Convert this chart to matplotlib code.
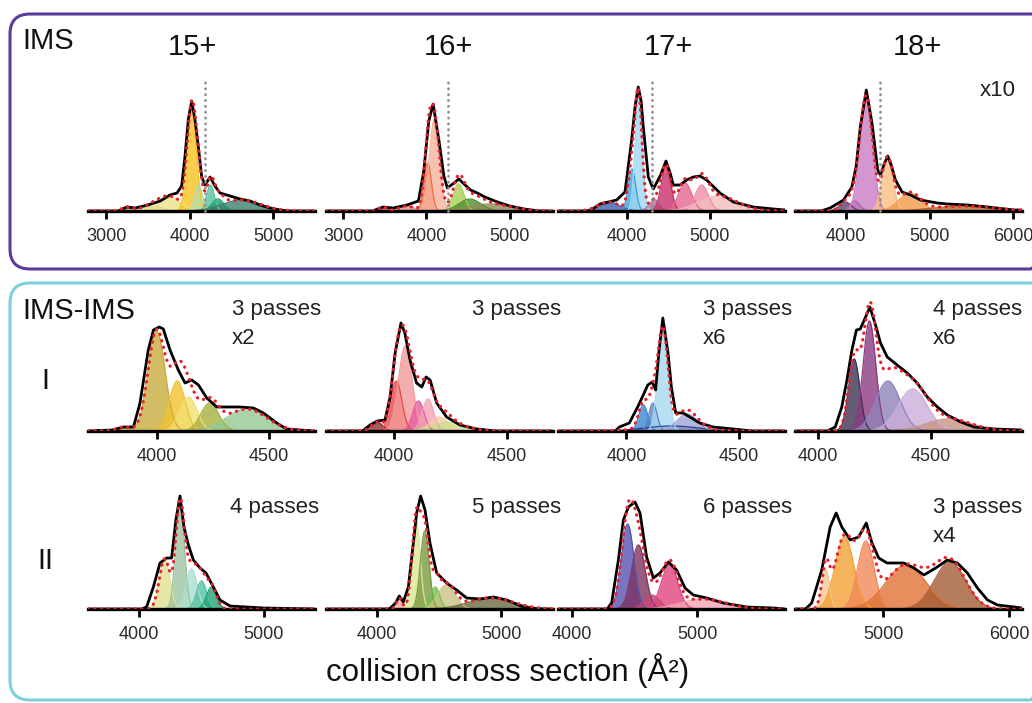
import numpy as np
import matplotlib
matplotlib.use("Agg")
from matplotlib import pyplot as plt
from matplotlib.patches import FancyBboxPatch

plt.rcParams['font.family'] = ['Liberation Sans', 'DejaVu Sans']

# Fitted components per panel: (centre CCS, height, sigma) + colours
# Measured trace per panel: CCS samples and heights (arbitrary units)
#--------------------------------------------------------------------------
# IMS row
ims15_peaks = [(3250, 4, 60), (3550, 5, 120), (3760, 14, 130), (4026, 104, 55),
               (4110, 26, 45), (4250, 26, 45), (4340, 12, 70), (4620, 11, 230)]
ims15_cols = ['#c8b050', '#e0d890', '#efe08a', '#f6c420',
              '#b8dca8', '#58c4a0', '#1f9b70', '#3f7f70']
ims15_x = [2784, 3150, 3250, 3350, 3500, 3650, 3766, 3850, 3906, 3946, 3986, 4026,
           4066, 4106, 4146, 4186, 4246, 4305, 4365, 4485, 4605, 4725, 4844,
           4964, 5084, 5200, 5503]
ims15_y = [0, 0, 4, 3, 6, 10, 16, 18, 25, 55, 92, 110, 91, 64, 34, 26, 34, 25,
           18, 15, 12, 10, 6, 3, 1, 0, 0]

ims16_peaks = [(3480, 4, 50), (3760, 5, 90), (4015, 48, 45), (4095, 92, 60),
               (4385, 27, 65), (4520, 12, 130), (4760, 7, 250)]
ims16_cols = ['#c86a5a', '#d89080', '#f26b45', '#f7b29c',
              '#a8cf55', '#4f8f2f', '#8f8a55']
ims16_x = [2795, 3350, 3480, 3600, 3767, 3904, 3968, 4028, 4080, 4149, 4209, 4250,
           4330, 4389, 4450, 4530, 4610, 4700, 4851, 5000, 5172, 5350, 5518]
ims16_y = [0, 0, 4, 3, 6, 10, 40, 90, 107, 71, 35, 23, 28, 32, 27, 21, 18, 14,
           9, 5, 2, 0, 0]

ims17_peaks = [(3780, 9, 130), (4060, 42, 45), (4140, 113, 42), (4340, 11, 70),
               (4470, 44, 58), (4700, 28, 80), (4900, 26, 80), (5100, 15, 230)]
ims17_cols = ['#3d5fb0', '#3f9fdc', '#9ed8f2', '#b27098',
              '#c8306c', '#e4688f', '#ef8ca6', '#f4bcbc']
ims17_x = [3169, 3550, 3675, 3876, 3976, 4056, 4100, 4136, 4170, 4197, 4257, 4317,
           4400, 4470, 4520, 4558, 4638, 4719, 4800, 4880, 4960, 5121, 5282,
           5522, 5763, 5904]
ims17_y = [0, 0, 7, 11, 19, 71, 106, 124, 110, 84, 34, 22, 35, 50, 38, 26, 26,
           31, 34, 35, 31, 18, 9, 4, 2, 1]

ims18_peaks = [(3990, 9, 70), (4100, 10, 60), (4240, 115, 75), (4495, 52, 65),
               (4760, 18, 130), (5400, 5, 350)]
ims18_cols = ['#5b3d6e', '#a46aa6', '#c97cc2', '#fbbf84', '#f29a4a', '#b8642a']
ims18_x = [3386, 3700, 3807, 3968, 4068, 4120, 4169, 4241, 4309, 4378, 4410, 4460,
           4498, 4540, 4590, 4670, 4771, 4892, 5092, 5212, 5454, 5695, 6016, 6108]
ims18_y = [0, 0, 3, 11, 24, 45, 84, 121, 88, 41, 36, 48, 55, 46, 31, 19, 16, 11,
           8, 7, 6, 4, 1, 1]

ims_marker = [4186, 4261, 4297, 4402]  # dotted reference lines

# IMS-IMS row I
i1_peaks = [(3850, 4, 30), (3998, 100, 38), (4090, 50, 35), (4140, 34, 38),
            (4235, 28, 40), (4400, 22, 90)]
i1_cols = ['#c8a83a', '#c7ad3f', '#f2c230', '#f2e070', '#a9b040', '#94c894']
i1_x = [3692, 3800, 3850, 3895, 3924, 3961, 3984, 4010, 4028, 4058, 4095, 4125,
        4155, 4185, 4222, 4267, 4326, 4370, 4430, 4475, 4534, 4579, 4638, 4705]
i1_y = [0, 1, 4, 4, 28, 81, 101, 104, 102, 81, 61, 48, 51, 46, 33, 24, 24, 24,
        23, 18, 8, 2, 1, 0]

i2_peaks = [(3925, 9, 25), (4010, 50, 25), (4050, 85, 30), (4108, 30, 25),
            (4150, 32, 25), (4200, 14, 40), (4240, 9, 70)]
i2_cols = ['#8c3434', '#e84a4a', '#f39a9a', '#e65aa0', '#f5a3b5', '#f8caa8', '#c8e08a']
i2_x = [3699, 3860, 3894, 3926, 3960, 3983, 4005, 4031, 4048, 4071, 4100, 4123,
        4142, 4160, 4189, 4233, 4292, 4366, 4450, 4704]
i2_y = [0, 0, 6, 10, 11, 34, 78, 108, 98, 71, 48, 44, 54, 51, 28, 14, 6, 2, 0, 0]

i3_peaks = [(4200, 5, 120), (4075, 26, 20), (4118, 28, 18), (4162, 98, 22),
            (4270, 17, 45)]
i3_cols = ['#2b3c8c', '#3a8ad2', '#5a84c4', '#a8d8f0', '#9ba6d6']
i3_x = [3696, 3950, 3969, 4013, 4050, 4073, 4095, 4115, 4130, 4144, 4162, 4185,
        4200, 4219, 4252, 4282, 4326, 4385, 4475, 4560, 4705]
i3_y = [0, 0, 4, 8, 24, 35, 46, 49, 41, 78, 113, 78, 44, 18, 18, 14, 8, 4, 2, 0, 0]

i4_peaks = [(4160, 72, 25), (4228, 110, 28), (4310, 50, 55), (4420, 42, 65),
            (4580, 12, 100)]
i4_cols = ['#3d3252', '#8b3b82', '#8e84ba', '#cbaedb', '#c99484']
i4_x = [3897, 4040, 4076, 4105, 4128, 4150, 4170, 4187, 4205, 4230, 4255, 4277,
        4307, 4351, 4396, 4440, 4485, 4530, 4574, 4634, 4693, 4783, 4906]
i4_y = [0, 0, 4, 24, 51, 81, 101, 102, 111, 124, 106, 88, 74, 66, 58, 48, 34,
        24, 16, 9, 4, 2, 1]

# IMS-IMS row II
ii1_peaks = [(4205, 50, 42), (4328, 105, 35), (4420, 40, 45), (4500, 28, 40),
             (4580, 22, 40)]
ii1_cols = ['#e2e094', '#9cc4a2', '#acdfd0', '#52c1a2', '#1fa172']
ii1_x = [3592, 4020, 4061, 4115, 4168, 4221, 4261, 4295, 4328, 4360, 4395, 4435,
         4488, 4536, 4595, 4648, 4728, 4861, 5000, 5408]
ii1_y = [0, 0, 2, 22, 46, 51, 51, 89, 113, 82, 64, 49, 41, 36, 22, 9, 3, 2, 1, 0]

ii2_peaks = [(4180, 11, 22), (4315, 88, 33), (4385, 78, 35), (4470, 22, 35),
             (4560, 24, 70), (4920, 11, 180)]
ii2_cols = ['#f2a4a4', '#d9e893', '#7b9b42', '#72c152', '#c9c283', '#6b6b43']
ii2_x = [3589, 4100, 4150, 4180, 4212, 4253, 4293, 4320, 4352, 4387, 4427, 4481,
         4562, 4642, 4723, 4831, 4938, 5046, 5180, 5300, 5419]
ii2_y = [0, 0, 6, 13, 7, 22, 66, 96, 113, 99, 66, 36, 26, 19, 11, 10, 12, 9, 2, 0, 0]

ii3_peaks = [(4445, 85, 50), (4531, 64, 55), (4640, 14, 60), (4780, 45, 65),
             (5050, 10, 180)]
ii3_cols = ['#5553b3', '#7f3361', '#c14a73', '#e0447e', '#f2a4b4']
ii3_x = [3888, 4280, 4317, 4371, 4411, 4451, 4504, 4544, 4597, 4651, 4704, 4771,
         4837, 4904, 4971, 5077, 5211, 5397, 5611, 5704]
ii3_y = [0, 0, 6, 49, 89, 102, 107, 96, 52, 31, 36, 47, 39, 21, 14, 11, 6, 2, 1, 0]

ii4_peaks = [(4540, 40, 30), (4690, 72, 75), (4860, 68, 65), (5180, 44, 160),
             (5530, 47, 125)]
ii4_cols = ['#f6c994', '#f2a234', '#f0895a', '#e07236', '#a45c34']
ii4_x = [4296, 4380, 4429, 4509, 4576, 4624, 4669, 4736, 4803, 4864, 4909, 4963,
         5029, 5163, 5243, 5323, 5429, 5509, 5589, 5669, 5749, 5829, 5909, 6043, 6104]
ii4_y = [0, 0, 6, 39, 82, 96, 82, 69, 72, 86, 66, 51, 46, 46, 41, 34, 42, 49,
         46, 36, 21, 9, 4, 2, 1]
#--------------------------------------------------------------------------

# Axis ranges and ticks
top_xlim = [(2784, 5503), (2795, 5518), (3169, 5904), (3386, 6108)]
top_ticks = [[3000, 4000, 5000], [3000, 4000, 5000], [4000, 5000], [4000, 5000, 6000]]
r1_xlim = [(3692, 4705), (3699, 4704), (3696, 4705), (3897, 4906)]
r1_ticks = [[4000, 4500]] * 4
r2_xlim = [(3592, 5408), (3589, 5419), (3888, 5704), (4296, 6104)]
r2_ticks = [[4000, 5000], [4000, 5000], [4000, 5000], [5000, 6000]]

W, H = 1032, 703
col_left = [88, 326, 558, 795]
col_width = 227
row_base = [211, 431, 609]


def draw_panel(ax, xlim, ticks, peaks, cols, ex, ey, marker=None):
    xs = np.linspace(xlim[0], xlim[1], 800)
    total = np.zeros_like(xs)
    for (c, h, s), col in zip(peaks, cols):
        g = h * np.exp(-0.5 * ((xs - c) / s) ** 2)
        total += g
        ax.fill_between(xs, 0, g, color=col, alpha=0.8, lw=0)
        ax.plot(xs, g, color=col, lw=0.9)
    ax.plot(ex, ey, color='black', lw=2.0, solid_joinstyle='round', zorder=5)
    ax.plot(xs, total, color='#e8202a', lw=2.3, ls=(0, (0.1, 2.0)),
            dash_capstyle='round', zorder=6)
    if marker is not None:
        ax.plot([marker, marker], [0, 132], color='#8f8f8f', lw=2.0,
                ls=(0, (0.1, 2.0)), dash_capstyle='round', zorder=7, clip_on=False)
    ax.set_xlim(*xlim)
    ax.set_ylim(0, 140)
    ax.set_xticks(ticks)
    ax.set_xticklabels([str(t) for t in ticks])
    ax.set_yticks([])
    for sp in ['top', 'left', 'right']:
        ax.spines[sp].set_visible(False)
    ax.spines['bottom'].set_linewidth(2.4)
    ax.tick_params(axis='x', length=6, width=2, pad=6.5, labelsize=13,
                   labelcolor='#2a2a2a')
    ax.patch.set_alpha(0)


def main():
    fig = plt.figure(figsize=(W / 100, H / 100), dpi=100)

    # background layer in pixel coordinates: boxes and labels
    bg = fig.add_axes([0, 0, 1, 1], zorder=0)
    bg.set_xlim(0, W)
    bg.set_ylim(H, 0)
    bg.axis('off')
    bg.add_patch(FancyBboxPatch((10, 14), 1040, 255,
                                boxstyle='round,pad=0,rounding_size=20',
                                fc='none', ec='#5b3b9b', lw=2.2))
    bg.add_patch(FancyBboxPatch((10, 283), 1040, 417,
                                boxstyle='round,pad=0,rounding_size=20',
                                fc='none', ec='#7ccfdc', lw=2.2))

    bg.text(22, 41, 'IMS', fontsize=21, va='center', ha='left', color='#111111')
    for x, lab in zip([192, 448, 668, 917], ['15+', '16+', '17+', '18+']):
        bg.text(x, 47, lab, fontsize=21, va='center', ha='center', color='#111111')
    bg.text(980, 91, 'x10', fontsize=16, va='center', ha='left', color='#222222')

    bg.text(22, 311, 'IMS-IMS', fontsize=21, va='center', ha='left', color='#111111')
    bg.text(45, 381, 'I', fontsize=21, va='center', ha='center', color='#111111')
    bg.text(45, 561, 'II', fontsize=21, va='center', ha='center', color='#111111')

    r1_notes = [('3 passes', 'x2'), ('3 passes', None), ('3 passes', 'x6'), ('4 passes', 'x6')]
    r1_textx = [232, 472, 703, 933]
    for x, (a, b) in zip(r1_textx, r1_notes):
        bg.text(x, 309, a, fontsize=16, va='center', ha='left', color='#222222')
        if b:
            bg.text(x, 339, b, fontsize=16, va='center', ha='left', color='#222222')
    r2_notes = [('4 passes', None), ('5 passes', None), ('6 passes', None), ('3 passes', 'x4')]
    r2_textx = [230, 472, 703, 933]
    for x, (a, b) in zip(r2_textx, r2_notes):
        bg.text(x, 507, a, fontsize=16, va='center', ha='left', color='#222222')
        if b:
            bg.text(x, 537, b, fontsize=16, va='center', ha='left', color='#222222')

    bg.text(508, 670, 'collision cross section (Å²)', fontsize=22.5,
            va='center', ha='center', color='#111111')

    rows = [
        (top_xlim, top_ticks, [(ims15_peaks, ims15_cols, ims15_x, ims15_y),
                               (ims16_peaks, ims16_cols, ims16_x, ims16_y),
                               (ims17_peaks, ims17_cols, ims17_x, ims17_y),
                               (ims18_peaks, ims18_cols, ims18_x, ims18_y)], ims_marker),
        (r1_xlim, r1_ticks, [(i1_peaks, i1_cols, i1_x, i1_y),
                             (i2_peaks, i2_cols, i2_x, i2_y),
                             (i3_peaks, i3_cols, i3_x, i3_y),
                             (i4_peaks, i4_cols, i4_x, i4_y)], [None] * 4),
        (r2_xlim, r2_ticks, [(ii1_peaks, ii1_cols, ii1_x, ii1_y),
                             (ii2_peaks, ii2_cols, ii2_x, ii2_y),
                             (ii3_peaks, ii3_cols, ii3_x, ii3_y),
                             (ii4_peaks, ii4_cols, ii4_x, ii4_y)], [None] * 4),
    ]

    for r, (xlims, ticks, panels, markers) in enumerate(rows):
        base = row_base[r]
        for c in range(4):
            rect = [col_left[c] / W, (H - base) / H, col_width / W, 140 / H]
            ax = fig.add_axes(rect, zorder=2)
            peaks, cols, ex, ey = panels[c]
            draw_panel(ax, xlims[c], ticks[c], peaks, cols, ex, ey, markers[c])

    fig.savefig('out.png', dpi=100, facecolor='white')


if __name__ == "__main__":
    main()
